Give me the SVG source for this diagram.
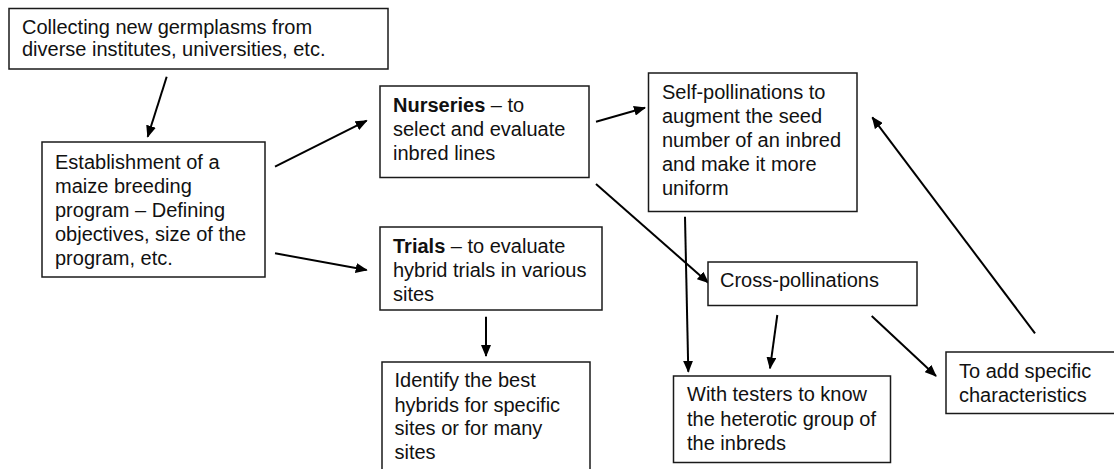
<svg xmlns="http://www.w3.org/2000/svg" width="1114" height="469" viewBox="0 0 1114 469">
<style>
.box{fill:#fff;stroke:#1a1a1a;stroke-width:1.5}
.t{font-family:"Liberation Sans",Arial,sans-serif;font-size:20px;fill:#111}
.b{font-weight:bold}
.c{stroke:#000;stroke-width:2;fill:none;marker-end:url(#ah)}
</style>
<defs>
<marker id="ah" viewBox="0 0 12 10" refX="11" refY="5" markerWidth="12" markerHeight="10" markerUnits="userSpaceOnUse" orient="auto">
<path d="M0,0 L12,5 L0,10 z" fill="#000"/>
</marker>
</defs>
<rect width="1114" height="469" fill="#fff"/>
<g id="connectors">
<line class="c" x1="166.7" y1="76.7" x2="147.7" y2="136.7"/>
<line class="c" x1="275" y1="166.7" x2="366.7" y2="120.7"/>
<line class="c" x1="275" y1="253.3" x2="366.7" y2="270"/>
<line class="c" x1="596" y1="121.7" x2="645" y2="107.7"/>
<line class="c" x1="596" y1="184" x2="708.3" y2="282.7"/>
<line class="c" x1="685" y1="216.7" x2="688.3" y2="371.7"/>
<line class="c" x1="777.3" y1="315" x2="770" y2="368.3"/>
<line class="c" x1="871.7" y1="316" x2="936" y2="376"/>
<line class="c" x1="1035" y1="333.3" x2="872.3" y2="117.3"/>
<line class="c" x1="486" y1="316.7" x2="486" y2="356"/>
</g>
<g id="collecting">
<rect class="box" x="9" y="8.5" width="379" height="60.5"/>
<text class="t" x="22" y="33.5">Collecting new germplasms from</text>
<text class="t" x="22" y="56">diverse institutes, universities, etc.</text>
</g>
<g id="establishment">
<rect class="box" x="42" y="142" width="223" height="135"/>
<text class="t" x="55" y="168.5">Establishment of a</text>
<text class="t" x="55" y="192.5">maize breeding</text>
<text class="t" x="55" y="216.5">program – Defining</text>
<text class="t" x="55" y="241">objectives, size of the</text>
<text class="t" x="55" y="265">program, etc.</text>
</g>
<g id="nurseries">
<rect class="box" x="380" y="86" width="209" height="91.5"/>
<text class="t" x="393" y="111.5"><tspan class="b">Nurseries</tspan> – to</text>
<text class="t" x="393" y="135.5">select and evaluate</text>
<text class="t" x="393" y="159.5">inbred lines</text>
</g>
<g id="trials">
<rect class="box" x="380" y="227" width="222" height="83"/>
<text class="t" x="393" y="252.5"><tspan class="b">Trials</tspan> – to evaluate</text>
<text class="t" x="393" y="276.5">hybrid trials in various</text>
<text class="t" x="393" y="300.5">sites</text>
</g>
<g id="self-pollinations">
<rect class="box" x="648.5" y="73" width="208.5" height="138.5"/>
<text class="t" x="662" y="99">Self-pollinations to</text>
<text class="t" x="662" y="123">augment the seed</text>
<text class="t" x="662" y="147">number of an inbred</text>
<text class="t" x="662" y="171">and make it more</text>
<text class="t" x="662" y="195">uniform</text>
</g>
<g id="cross-pollinations">
<rect class="box" x="708" y="262" width="209" height="43.5"/>
<text class="t" x="720" y="287">Cross-pollinations</text>
</g>
<g id="testers">
<rect class="box" x="673.5" y="376" width="217" height="86.5"/>
<text class="t" x="687" y="401">With testers to know</text>
<text class="t" x="687" y="425.5">the heterotic group of</text>
<text class="t" x="687" y="450">the inbreds</text>
</g>
<g id="add-characteristics">
<rect class="box" x="946" y="352" width="175" height="61.5"/>
<text class="t" x="959" y="378">To add specific</text>
<text class="t" x="959" y="402">characteristics</text>
</g>
<g id="identify">
<rect class="box" x="382" y="362" width="208" height="115"/>
<text class="t" x="394.5" y="387">Identify the best</text>
<text class="t" x="394.5" y="411.5">hybrids for specific</text>
<text class="t" x="394.5" y="435">sites or for many</text>
<text class="t" x="394.5" y="458.5">sites</text>
</g>
</svg>
